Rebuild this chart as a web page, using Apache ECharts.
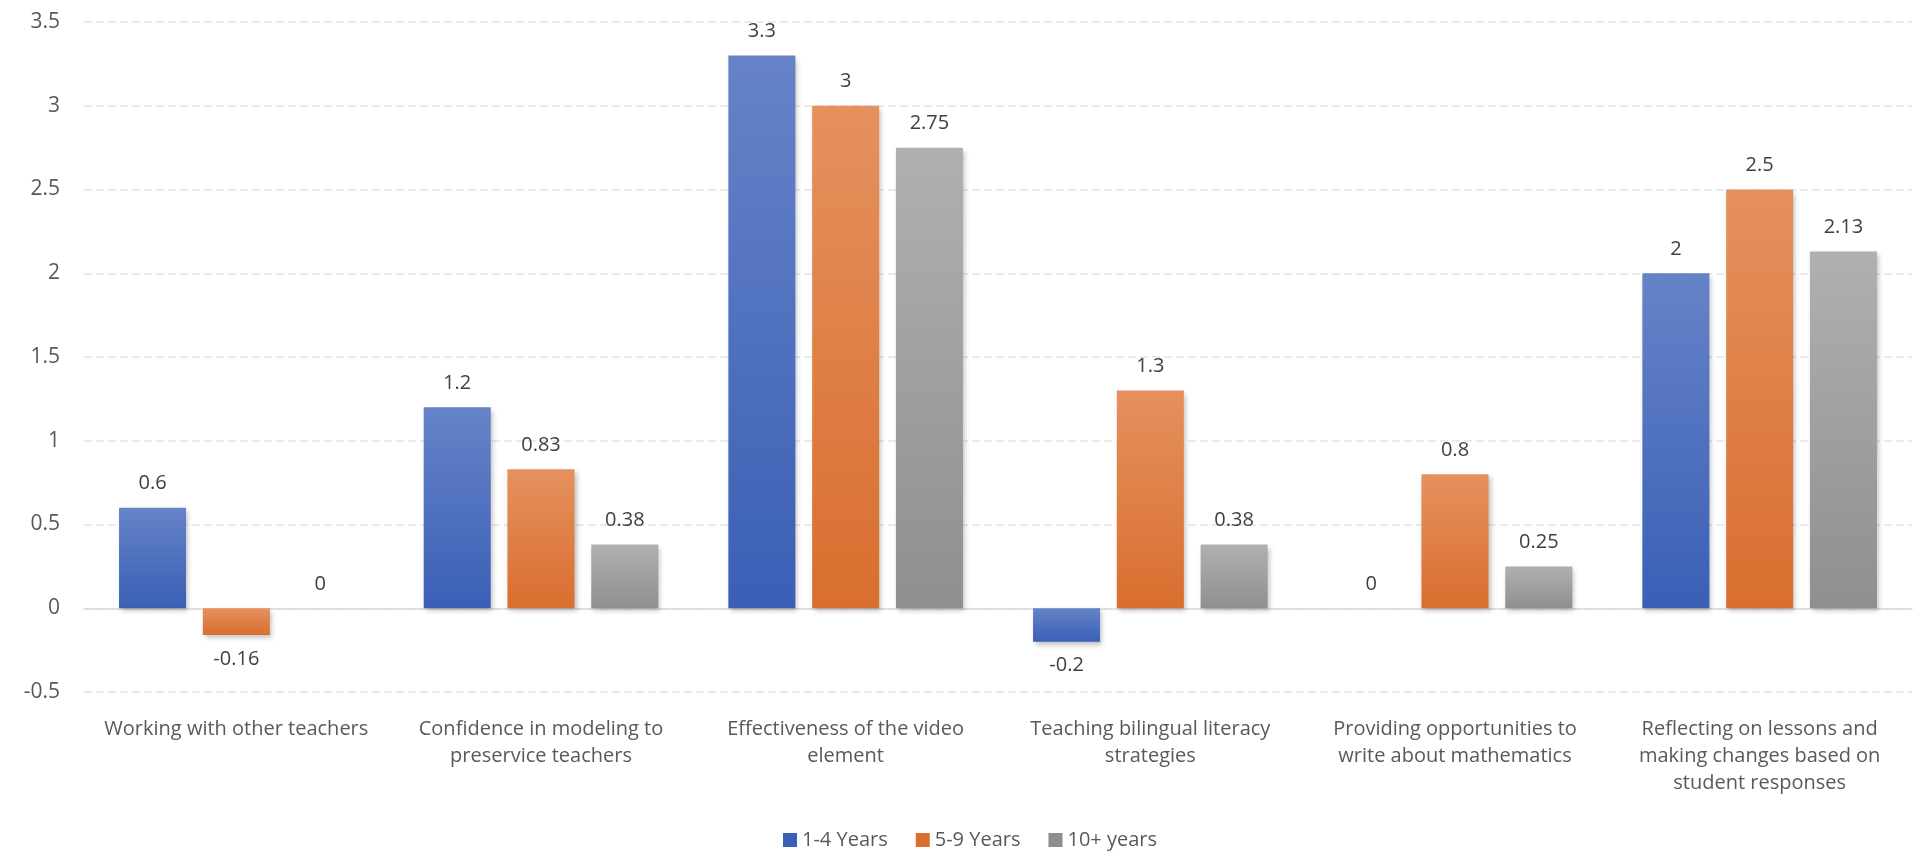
<!DOCTYPE html>
<html>
<head>
<meta charset="utf-8">
<script src="https://cdn.jsdelivr.net/npm/echarts@6/dist/echarts.min.js"></script>
<style>
html,body{margin:0;padding:0;background:#fff;}
#chart{width:1921px;height:857px;}
</style>
</head>
<body>
<div id="chart"></div>
<script>
const categories = [
  "Working with other teachers",
  "Confidence in modeling to\npreservice teachers",
  "Effectiveness of the video\nelement",
  "Teaching bilingual literacy\nstrategies",
  "Providing opportunities to\nwrite about mathematics",
  "Reflecting on lessons and\nmaking changes based on\nstudent responses"
];
const seriesNames = ["1-4 Years", "5-9 Years", "10+ years"];
const years1to4 = [0.6, 1.2, 3.3, -0.2, 0, 2];
const years5to9 = [-0.16, 0.83, 3, 1.3, 0.8, 2.5];
const years10plus = [0, 0.38, 2.75, 0.38, 0.25, 2.13];

const colors = [
  ['#6683c8', '#3a5fb5'],
  ['#e5915e', '#d96e2f'],
  ['#b0b0b0', '#8f8f8f']
];
const font = 'Open Sans, Liberation Sans, sans-serif';

function grad(c) {
  return new echarts.graphic.LinearGradient(0, 0, 0, 1, [
    {offset: 0, color: c[0]}, {offset: 1, color: c[1]}
  ]);
}
function makeData(arr) {
  return arr.map(v => ({
    value: v,
    label: {position: v < 0 ? 'bottom' : 'top'}
  }));
}
function makeSeries(name, arr, c) {
  return {
    name: name,
    type: 'bar',
    data: makeData(arr),
    barGap: '25%',
    barCategoryGap: '23%',
    itemStyle: {
      color: grad(c),
      shadowBlur: 5,
      shadowOffsetX: 2,
      shadowOffsetY: 3,
      shadowColor: 'rgba(0,0,0,0.25)'
    },
    label: {
      show: true,
      distance: 14,
      fontFamily: font,
      fontSize: 20,
      color: '#404040'
    }
  };
}

const chart = echarts.init(document.getElementById('chart'));
chart.setOption({
  backgroundColor: '#fff',
  animation: false,
  color: colors.map(c => c[1]),
  grid: {left: 84, right: 9, top: 22, bottom: 165, containLabel: false},
  legend: {
    data: seriesNames.map((n, i) => ({name: n, itemStyle: {color: colors[i][1]}})),
    left: 778,
    top: 825,
    icon: 'rect',
    itemWidth: 14,
    itemHeight: 14,
    itemGap: 28,
    textStyle: {fontFamily: font, fontSize: 20, color: '#595959'}
  },
  xAxis: {
    type: 'category',
    data: categories,
    axisTick: {show: false},
    axisLine: {onZero: true, lineStyle: {color: '#d9d9d9', width: 1.5}},
    axisLabel: {
      interval: 0,
      margin: 24,
      fontFamily: font,
      fontSize: 20,
      lineHeight: 27,
      color: '#595959'
    }
  },
  yAxis: {
    type: 'value',
    min: -0.5,
    max: 3.5,
    interval: 0.5,
    axisLine: {show: false},
    axisTick: {show: false},
    splitLine: {lineStyle: {color: '#e3e3e3', type: [8, 4], width: 1.5}},
    axisLabel: {
      margin: 24,
      fontFamily: font,
      fontSize: 21,
      color: '#595959'
    }
  },
  series: [
    makeSeries(seriesNames[0], years1to4, colors[0]),
    makeSeries(seriesNames[1], years5to9, colors[1]),
    makeSeries(seriesNames[2], years10plus, colors[2])
  ]
});
</script>
</body>
</html>
